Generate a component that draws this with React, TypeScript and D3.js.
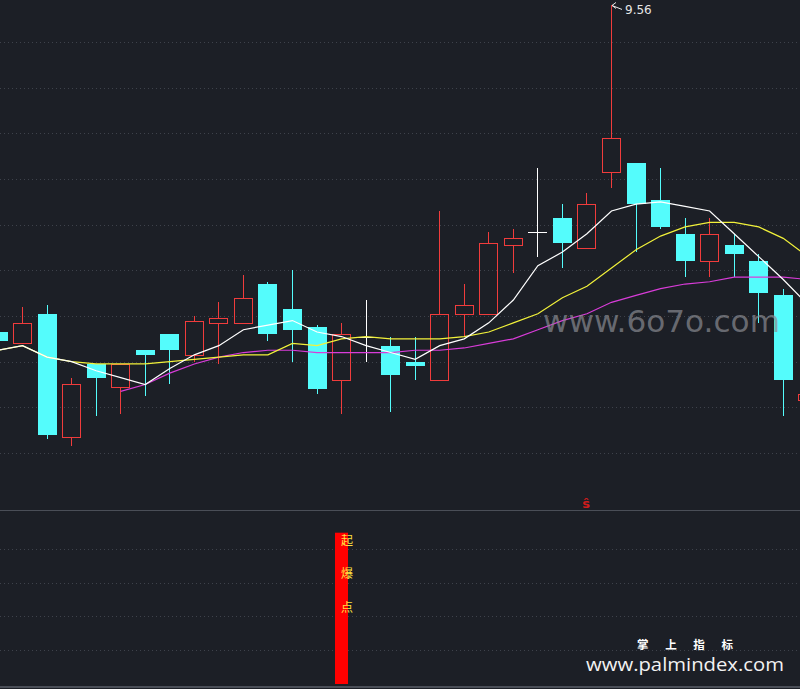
import React from 'react';
import * as d3 from 'd3';

const W = 800;
const H = 689;

// OHLC per trading day (index 0..33)
const opens = [8.13, 8.08, 8.21, 7.67, 7.99, 7.89, 8.05, 8.12, 8.03, 8.17, 8.17, 8.34, 8.23, 8.15, 7.92, 8.11, 8.07, 8.0, 7.92, 8.21, 8.21, 8.51, 8.57, 8.63, 8.5, 8.83, 8.87, 8.71, 8.56, 8.44, 8.51, 8.44, 8.29, 7.83];
const highs = [8.13, 8.24, 8.25, 7.93, 7.99, 7.99, 8.05, 8.12, 8.2, 8.26, 8.38, 8.35, 8.4, 8.16, 8.17, 8.27, 8.11, 8.11, 8.66, 8.34, 8.57, 8.58, 8.85, 8.69, 8.74, 9.56, 8.87, 8.85, 8.63, 8.63, 8.56, 8.47, 8.32, 7.86];
const lows = [8.09, 8.08, 7.66, 7.63, 7.76, 7.77, 7.85, 7.9, 8.0, 7.99, 8.17, 8.09, 8.0, 7.86, 7.77, 8.0, 7.78, 7.92, 7.92, 8.11, 8.21, 8.39, 8.46, 8.41, 8.5, 8.76, 8.48, 8.58, 8.37, 8.37, 8.37, 8.17, 7.76, 7.83];
const closes = [8.09, 8.17, 7.68, 7.9, 7.93, 7.99, 8.03, 8.05, 8.18, 8.19, 8.28, 8.12, 8.14, 7.88, 8.12, 8.11, 7.94, 7.98, 8.21, 8.25, 8.52, 8.54, 8.57, 8.52, 8.69, 8.98, 8.69, 8.59, 8.44, 8.56, 8.47, 8.3, 7.92, 7.86];

// moving averages
const maWhite = [8.05, 8.07, 8.02, 8.0, 7.96, 7.93, 7.9, 7.97, 8.03, 8.07, 8.14, 8.16, 8.18, 8.13, 8.11, 8.07, 8.04, 8.01, 8.07, 8.1, 8.17, 8.27, 8.42, 8.48, 8.56, 8.66, 8.69, 8.7, 8.68, 8.66, 8.56, 8.46, 8.36, 8.25];
const maYellow = [8.05, 8.07, 8.02, 8.0, 7.99, 7.99, 7.99, 8.0, 8.01, 8.02, 8.03, 8.03, 8.08, 8.07, 8.1, 8.11, 8.1, 8.1, 8.1, 8.11, 8.13, 8.17, 8.21, 8.28, 8.33, 8.41, 8.49, 8.55, 8.59, 8.61, 8.61, 8.59, 8.54, 8.46];
const maMagenta: (number | null)[] = [null, null, null, null, null, 7.87, 7.9, 7.95, 7.99, 8.02, 8.04, 8.05, 8.05, 8.04, 8.04, 8.04, 8.04, 8.05, 8.05, 8.06, 8.08, 8.1, 8.14, 8.18, 8.21, 8.26, 8.29, 8.32, 8.34, 8.35, 8.37, 8.37, 8.37, 8.36];

const priceGrid = [9.4, 9.2, 9.0, 8.8, 8.6, 8.4, 8.2, 8.0, 7.8, 7.6];
const subGrid = [20, 40, 60, 80];

const signalIdx = [14];
const signalVal = [90];
const signalChars = ['起', '爆', '点'];
const markerIdx = [24];
const highIdx = 25;
const highLabel = '9.56';

const BG = '#1c1f26';
const RED = '#f03c3c';
const CYAN = '#54fcfc';
const GRID = '#3e424b';

export default function App() {
  const x = d3.scaleLinear().domain([0, 33]).range([-2, 807.8]);
  const y = d3.scaleLinear().domain([7.6, 9.4]).range([453, 42]);
  const ys = d3.scaleLinear().domain([0, 100]).range([683, 516]);

  const idx = d3.range(opens.length);
  const lineGen = d3
    .line<number | null>()
    .defined((d) => d !== null)
    .x((_, i) => x(i))
    .y((d) => y(d as number));

  const px = (v: number) => Math.round(v) + 0.5;

  return (
    <svg
      width={W}
      height={H}
      style={{ position: 'absolute', left: 0, top: 0, background: BG, display: 'block' }}
    >
      <rect x={0} y={0} width={W} height={H} fill={BG} />
      {priceGrid.map((p) => (
        <line key={'g' + p} x1={0} x2={W} y1={px(y(p))} y2={px(y(p))} stroke={GRID} strokeDasharray="1 3" />
      ))}
      {subGrid.map((v) => (
        <line key={'s' + v} x1={0} x2={W} y1={px(ys(v))} y2={px(ys(v))} stroke={GRID} strokeDasharray="1 3" />
      ))}
      <line x1={0} x2={W} y1={510.5} y2={510.5} stroke="#4a4e57" strokeWidth={1.2} />
      <line x1={0} x2={W} y1={687} y2={687} stroke="#4a4e57" strokeWidth={2} />

      {/* candles */}
      {idx.map((i) => {
        const cx = Math.floor(x(i));
        const o = opens[i];
        const c = closes[i];
        const yo = Math.round(y(o));
        const yc = Math.round(y(c));
        const yh = Math.round(y(highs[i]));
        const yl = Math.round(y(lows[i]));
        if (c > o) {
          return (
            <g key={'c' + i} stroke={RED} fill="none">
              {yh < yc && <line x1={cx + 0.5} x2={cx + 0.5} y1={yh} y2={yc} />}
              {yl > yo && <line x1={cx + 0.5} x2={cx + 0.5} y1={yo} y2={yl} />}
              <rect x={cx - 8.5} y={yc + 0.5} width={18} height={Math.max(1, yo - yc)} />
            </g>
          );
        } else if (c < o) {
          return (
            <g key={'c' + i}>
              <line x1={cx + 0.5} x2={cx + 0.5} y1={yh} y2={yl} stroke={CYAN} />
              <rect x={cx - 9} y={yo} width={19} height={Math.max(1, yc - yo)} fill={CYAN} />
            </g>
          );
        }
        return (
          <g key={'c' + i} stroke="#ffffff">
            <line x1={cx + 0.5} x2={cx + 0.5} y1={yh} y2={yl} />
            <line x1={cx - 9} x2={cx + 10} y1={yo + 0.5} y2={yo + 0.5} />
          </g>
        );
      })}

      {/* moving averages */}
      <path d={lineGen(maMagenta) || ''} fill="none" stroke="#d93cd9" strokeWidth={1.2} />
      <path d={lineGen(maYellow) || ''} fill="none" stroke="#f2f23a" strokeWidth={1.2} />
      <path d={lineGen(maWhite) || ''} fill="none" stroke="#ffffff" strokeWidth={1.2} />

      {/* high label */}
      {(() => {
        const hx = Math.floor(x(highIdx)) + 1;
        const hy = y(highs[highIdx]);
        return (
          <g>
            <path d={`M${hx + 4},${hy - 3} L${hx},${hy} L${hx + 4},${hy + 3} M${hx},${hy} L${hx + 10},${hy + 4}`} stroke="#e8e8e8" fill="none" strokeWidth={1} />
            <text x={hx + 13} y={hy + 9} fill="#e6e6e6" fontSize={12} fontFamily="'DejaVu Sans', sans-serif">
              {highLabel}
            </text>
          </g>
        );
      })()}

      {/* marker */}
      {markerIdx.map((i) => (
        <text key={'m' + i} x={Math.floor(x(i))} y={508} fill="#d01c1c" fontSize={13} fontWeight="bold" textAnchor="middle" fontFamily="'DejaVu Sans', sans-serif">
          ŝ
        </text>
      ))}

      {/* signal bar */}
      {signalIdx.map((i, k) => {
        const cx = Math.floor(x(i));
        const top = ys(signalVal[k]);
        return (
          <g key={'sig' + i}>
            <rect x={cx - 6} y={top} width={13} height={ys(0) - top + 1} fill="#ff0000" />
            {signalChars.map((ch, j) => (
              <text key={ch} x={cx + 6} y={top + 12 + j * 33.5} fill="#ffe040" fontSize={12} textAnchor="middle" fontFamily="'Noto Sans CJK SC', sans-serif">
                {ch}
              </text>
            ))}
          </g>
        );
      })}

      {/* watermarks */}
      <text x={543} y={332} fill="#8a8c92" fillOpacity={0.7} fontSize={30} fontFamily="'DejaVu Sans', sans-serif" textLength={237} lengthAdjust="spacingAndGlyphs">
        www.6o7o.com
      </text>
      <text x={637} y={649} fill="#ffffff" fontSize={11.5} fontWeight="bold" fontFamily="'Noto Sans CJK SC', sans-serif" textLength={96} lengthAdjust="spacing">
        掌上指标
      </text>
      <text x={586} y={670.5} fill="#f2f2f2" fontSize={17.5} fontFamily="'Open Sans', sans-serif" textLength={198} lengthAdjust="spacingAndGlyphs">
        www.palmindex.com
      </text>
    </svg>
  );
}
